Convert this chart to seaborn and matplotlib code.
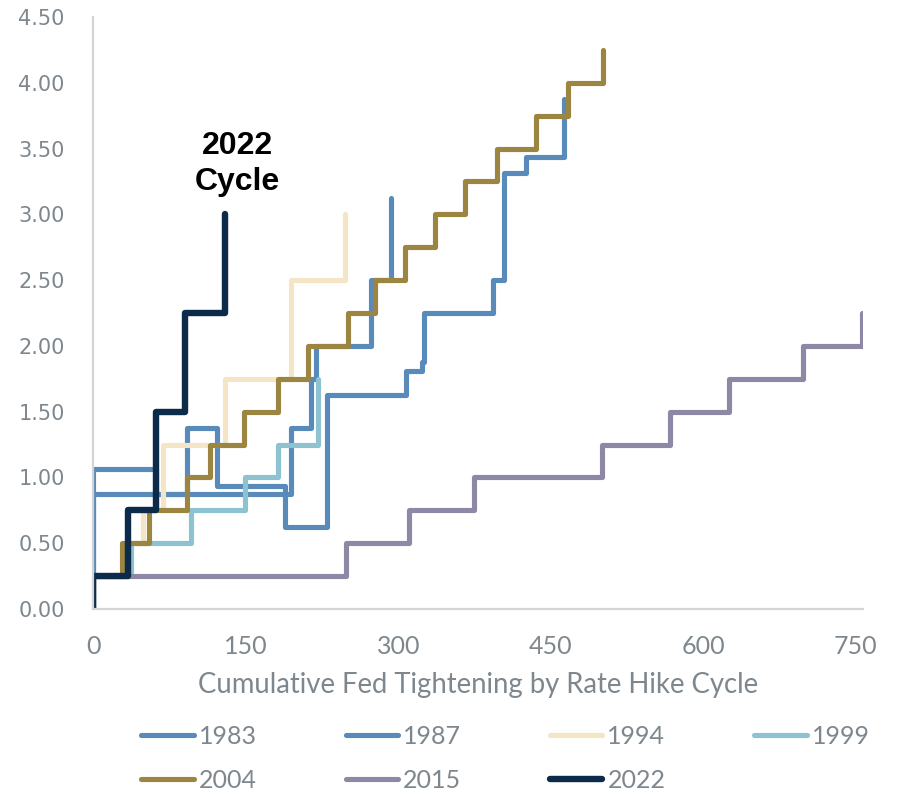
import matplotlib
matplotlib.use("Agg")
import matplotlib.pyplot as plt
import seaborn as sns
import pandas as pd

# cumulative fed tightening (x = business days into the cycle, y = % tightening)
c1983_x = [0, 0, 194, 214, 219, 273, 293]
c1983_y = [0, 0.875, 1.375, 1.75, 2.0, 2.5, 3.125]

c1987_x = [0, 0, 62, 92, 122, 189, 230, 308, 323, 325, 393, 404, 425.5, 463]
c1987_y = [0, 1.0625, 0.875, 1.375, 0.9375, 0.625, 1.625, 1.8125, 1.875, 2.25, 2.5, 3.3125, 3.4375, 3.875]

c1994_x = [0, 0, 32, 49, 69, 130, 194.5, 247.5]
c1994_y = [0, 0.25, 0.5, 0.75, 1.25, 1.75, 2.5, 3.0]

c1999_x = [0, 0, 37.5, 96, 149.5, 182, 221]
c1999_y = [0, 0.25, 0.5, 0.75, 1.0, 1.25, 1.75]

c2004_x = [0, 0, 28, 55, 92, 115, 148.5, 182, 211, 251, 277.5, 307, 336.5, 366, 397.5, 435, 466.5, 501.5]
c2004_y = [0, 0.25, 0.5, 0.75, 1.0, 1.25, 1.5, 1.75, 2.0, 2.25, 2.5, 2.75, 3.0, 3.25, 3.5, 3.75, 4.0, 4.25]

c2015_x = [0, 0, 249, 311, 374.5, 500.5, 567, 625, 698, 756]
c2015_y = [0, 0.25, 0.5, 0.75, 1.0, 1.25, 1.5, 1.75, 2.0, 2.25]

c2022_x = [0, 0, 34, 62, 90, 130]
c2022_y = [0, 0.25, 0.75, 1.5, 2.25, 3.0]

cycles = ["1983", "1987", "1994", "1999", "2004", "2015", "2022"]
xs = [c1983_x, c1987_x, c1994_x, c1999_x, c2004_x, c2015_x, c2022_x]
ys = [c1983_y, c1987_y, c1994_y, c1999_y, c2004_y, c2015_y, c2022_y]
x_ticks = [0, 150, 300, 450, 600, 750]
y_ticks = [0, 0.5, 1.0, 1.5, 2.0, 2.5, 3.0, 3.5, 4.0, 4.5]

colors = {"1983": "#588bba", "1987": "#588bba", "1994": "#f3e5c5",
          "1999": "#8dc3d0", "2004": "#9b8540", "2015": "#8e88a6",
          "2022": "#0c2b4b"}
grey = "#7d878d"

sns.set_style("white")
fig = plt.figure(figsize=(8.97, 7.94), dpi=100)
ax = fig.add_axes([0.104, 0.233, 0.858, 0.7456])

for name, x, y in zip(cycles, xs, ys):
    df = pd.DataFrame({"x": x, "y": y})
    lw = 4.6 if name == "2022" else 3.7
    sns.lineplot(data=df, x="x", y="y", ax=ax, color=colors[name], lw=lw,
                 estimator=None, sort=False, drawstyle="steps-post",
                 solid_joinstyle="round", solid_capstyle="round", label=name)

ax.text(142, 3.38, "2022\nCycle", ha="center", va="center", fontsize=23,
        fontweight="bold", family="Liberation Sans", color="black",
        linespacing=1.25)

ax.set_xlim(0, 757)
ax.set_ylim(0, 4.5)
ax.set_xticks(x_ticks)
ax.set_xticklabels([str(t) for t in x_ticks], family="Lato", fontsize=18, color=grey)
ax.set_yticks(y_ticks)
ax.set_yticklabels([f"{t:.2f}" for t in y_ticks], family="DejaVu Sans", fontsize=15, color=grey)
ax.set_ylabel("")
ax.set_xlabel("Cumulative Fed Tightening by Rate Hike Cycle", family="Lato",
              fontsize=19.8, color=grey, labelpad=10)
ax.tick_params(axis="both", which="both", direction="out", length=6.5,
               width=1.3, color="#d4d4d4")
ax.tick_params(axis="x", pad=12)
ax.tick_params(axis="y", pad=14)
sns.despine(ax=ax)
for s in ["left", "bottom"]:
    ax.spines[s].set_color("#d4d4d4")
    ax.spines[s].set_linewidth(1.6)

# legend fills column-wise, so reorder to read row by row
handles, labels = ax.get_legend_handles_labels()
order = [0, 4, 1, 5, 2, 6, 3]
ax.legend([handles[i] for i in order], [labels[i] for i in order], ncol=4,
          loc="upper left", bbox_to_anchor=(0.1575, 0.087),
          bbox_transform=fig.transFigure, frameon=False, borderpad=0,
          borderaxespad=0, handlelength=2.1, handletextpad=0.2,
          columnspacing=3.55, labelspacing=0.85,
          prop={"family": "Lato", "size": 18}, labelcolor=grey)

fig.savefig("out.png", dpi=100)
